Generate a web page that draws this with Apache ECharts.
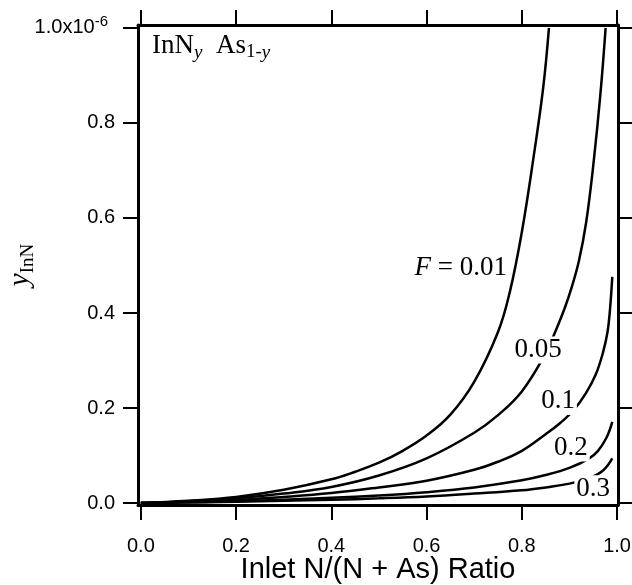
<!DOCTYPE html>
<html>
<head>
<meta charset="utf-8">
<script src="https://cdn.jsdelivr.net/npm/echarts@6/dist/echarts.min.js"></script>
<style>
  html, body { margin: 0; padding: 0; background: #fff; }
  #chart { width: 632px; height: 585px; }
</style>
</head>
<body>
<div id="chart"></div>
<script>
// Inlet N/(N + As) ratio vs. InN fraction y (values in units of 1e-6), one curve per F
const curveF001 = [[0,0],[0.1,0.005],[0.2,0.013],[0.3,0.028],[0.4,0.05],[0.45,0.066],[0.5,0.085],[0.55,0.11],[0.6,0.142],[0.65,0.186],[0.7,0.255],[0.75,0.36],[0.775,0.445],[0.8,0.57],[0.825,0.73],[0.845,0.875],[0.857,1.0]];
const curveF005 = [[0,0],[0.1,0.004],[0.2,0.01],[0.3,0.02],[0.4,0.034],[0.5,0.058],[0.6,0.094],[0.7,0.148],[0.75,0.185],[0.8,0.235],[0.85,0.315],[0.87,0.36],[0.89,0.41],[0.905,0.455],[0.92,0.51],[0.935,0.59],[0.95,0.71],[0.965,0.86],[0.976,1.0]];
const curveF01 = [[0,0],[0.2,0.007],[0.3,0.013],[0.4,0.021],[0.5,0.033],[0.6,0.047],[0.7,0.07],[0.75,0.087],[0.8,0.11],[0.85,0.145],[0.88,0.168],[0.91,0.197],[0.935,0.232],[0.955,0.27],[0.97,0.315],[0.98,0.36],[0.985,0.405],[0.99,0.476]];
const curveF02 = [[0,0],[0.2,0.004],[0.4,0.011],[0.5,0.016],[0.6,0.023],[0.7,0.033],[0.8,0.048],[0.85,0.059],[0.9,0.074],[0.94,0.093],[0.96,0.11],[0.978,0.138],[0.99,0.171]];
const curveF03 = [[0,0],[0.2,0.003],[0.4,0.007],[0.5,0.01],[0.6,0.014],[0.7,0.02],[0.8,0.027],[0.85,0.033],[0.9,0.041],[0.94,0.052],[0.97,0.068],[0.99,0.094]];

const curves = [curveF001, curveF005, curveF01, curveF02, curveF03];
const fLabels = ['{it|F} = 0.01', '0.05', '0.1', '0.2', '0.3'];
// where each F label sits, in data coordinates
const curveLabelAt = [[0.672,0.495],[0.834,0.322],[0.876,0.214],[0.903,0.116],[0.95,0.03]];

const xTicks = [0, 0.2, 0.4, 0.6, 0.8, 1.0];
const xTickLabels = ['0.0', '0.2', '0.4', '0.6', '0.8', '1.0'];
const yTicks = [0, 0.2, 0.4, 0.6, 0.8, 1.0];
const yTickLabels = ['0.0', '0.2', '0.4', '0.6', '0.8', '1.0x10{sup|-6}'];

const ink = '#000';
const sans = 'Liberation Sans';
const serif = 'Liberation Serif';

function tickLabel(values, labels) {
  return v => {
    const i = values.findIndex(t => Math.abs(t - v) < 1e-9);
    return i >= 0 ? labels[i] : '';
  };
}

const frameAxis = {
  axisLine: { show: true, onZero: false, lineStyle: { color: ink, width: 3 } },
  splitLine: { show: false },
  minorTick: { show: false }
};
const tickStyle = (values, len) => ({
  show: true, inside: false, length: len, customValues: values,
  lineStyle: { color: ink, width: 2 }
});

const xRange = { min: -0.006, max: 1.002 };
const yRange = { min: -0.004, max: 1.006 };

const lineSeries = curves.map(pts => ({
  type: 'line',
  data: pts,
  xAxisIndex: 0,
  yAxisIndex: 0,
  smooth: 0.4,
  showSymbol: false,
  symbol: 'none',
  lineStyle: { color: ink, width: 2.5 },
  z: 2,
  silent: true
}));

const labelSeries = {
  type: 'scatter',
  xAxisIndex: 0,
  yAxisIndex: 0,
  symbolSize: 1,
  itemStyle: { opacity: 0 },
  z: 5,
  silent: true,
  data: curveLabelAt.map((p, i) => ({ value: p, name: fLabels[i] })),
  label: {
    show: true,
    position: 'inside',
    formatter: p => p.name,
    fontFamily: serif,
    fontSize: 27,
    color: ink,
    opacity: 1,
    textBorderWidth: 0,
    backgroundColor: '#fff',
    padding: [0, 2],
    rich: {
      it: { fontFamily: serif, fontStyle: 'italic', fontSize: 27, color: ink }
    }
  }
};

const option = {
  backgroundColor: '#fff',
  animation: false,
  grid: { left: 138, right: 14, top: 25, bottom: 80, containLabel: false, outerBoundsMode: 'none' },
  xAxis: [
    Object.assign({
      type: 'value',
      position: 'bottom',
      ...xRange,
      name: 'Inlet N/(N + As) Ratio',
      nameLocation: 'middle',
      nameGap: 50,
      nameMoveOverlap: false,
      nameTextStyle: { fontFamily: sans, fontSize: 29, color: ink },
      axisLabel: {
        show: true, margin: 31, customValues: xTicks,
        formatter: tickLabel(xTicks, xTickLabels),
        fontFamily: sans, fontSize: 20, color: ink
      },
      axisTick: tickStyle(xTicks, 15)
    }, frameAxis),
    Object.assign({
      type: 'value',
      position: 'top',
      ...xRange,
      axisLabel: { show: false },
      axisTick: tickStyle(xTicks, 15)
    }, frameAxis)
  ],
  yAxis: [
    Object.assign({
      type: 'value',
      position: 'left',
      ...yRange,
      name: '{it|y}{sub|InN}',
      nameLocation: 'middle',
      nameRotate: 90,
      nameGap: 100,
      nameMoveOverlap: false,
      nameTextStyle: {
        rich: {
          it: { fontFamily: serif, fontStyle: 'italic', fontSize: 29, color: ink },
          sub: { fontFamily: serif, fontSize: 19, color: ink, padding: [16, 0, 0, 0] }
        }
      },
      axisLabel: {
        show: true, margin: 23, customValues: yTicks,
        formatter: tickLabel(yTicks, yTickLabels),
        fontFamily: sans, fontSize: 20, color: ink,
        rich: { sup: { fontFamily: sans, fontSize: 15, color: ink, padding: [0, 7, 12, 0] } }
      },
      axisTick: tickStyle(yTicks, 15)
    }, frameAxis),
    Object.assign({
      type: 'value',
      position: 'right',
      ...yRange,
      axisLabel: { show: false },
      axisTick: tickStyle(yTicks, 14)
    }, frameAxis)
  ],
  graphic: [{
    type: 'text',
    left: 152,
    top: 32,
    z: 10,
    style: {
      text: 'InN{it|y}  As{sub|1-}{it|y}',
      fontFamily: serif,
      fontSize: 27,
      fill: ink,
      rich: {
        sub: { fontFamily: serif, fontSize: 19, fill: ink, padding: [14, 0, 0, 0] },
        it: { fontFamily: serif, fontStyle: 'italic', fontSize: 19, fill: ink, padding: [14, 0, 0, 0] }
      }
    }
  }],
  series: [...lineSeries, labelSeries]
};

const chart = echarts.init(document.getElementById('chart'), null, { renderer: 'canvas' });
chart.setOption(option);
</script>
</body>
</html>
